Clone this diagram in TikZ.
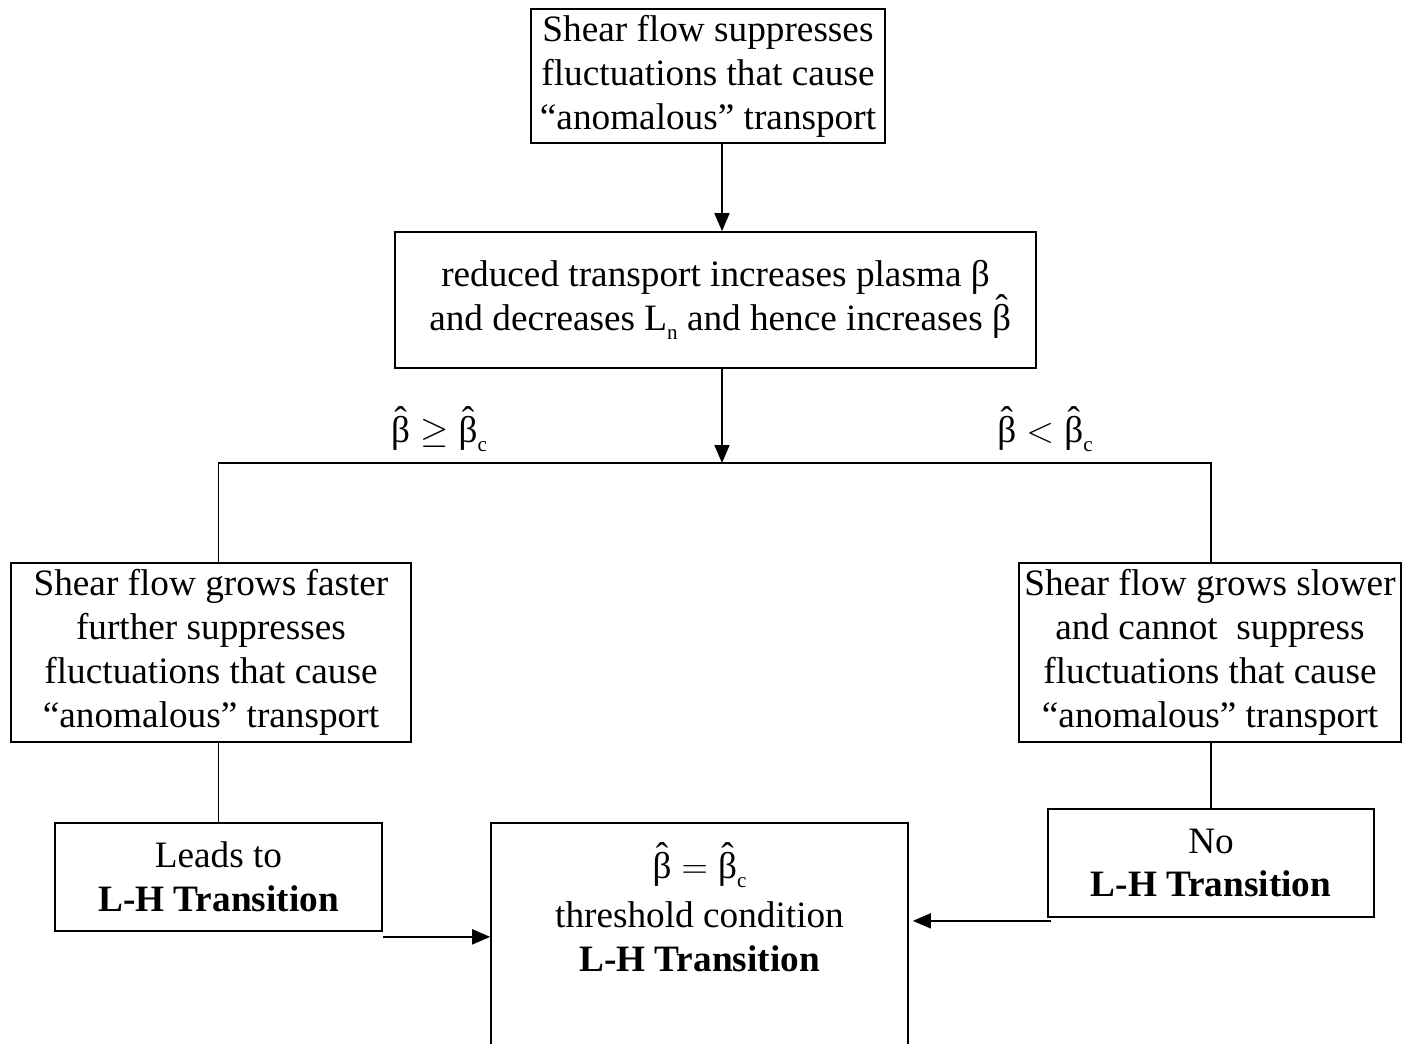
\documentclass[tikz,border=0pt]{standalone}
\usepackage{amsmath}
\usepackage{fontspec}
\setmainfont{Liberation Serif}
\usetikzlibrary{arrows.meta, positioning}
\newcommand{\sub}[1]{\raisebox{-0.24em}{\fontsize{12}{12}\selectfont #1}}
\newcommand{\bh}{\text{\ooalign{β\cr\hidewidth\raisebox{0.27em}{ˆ}\hidewidth\cr}}}
\newcommand{\bhc}{\bh\text{\sub{c}}}
\tikzset{
  box/.style  ={draw, rectangle, inner sep=0pt, align=center, line width=1pt},
  txt/.style  ={align=center, inner sep=0pt},
  flow/.style ={-{Triangle[length=3.6mm, width=3mm]}, line width=1pt},
  link/.style ={line width=1pt},
}

\begin{document}
\begin{tikzpicture}[x=0.02cm, y=-0.02cm, font=\fontsize{21.2}{25}\selectfont]
  \useasboundingbox (0,0) rectangle (1403,1044);
  % chain at the top
  \node[box, minimum width=7.08cm, minimum height=2.68cm] (shear) at (708,76)
    {Shear flow suppresses\\fluctuations that cause\\``anomalous'' transport};
  \node[box, minimum width=12.82cm, minimum height=2.72cm] (reduced) at (715.5,300)
    {reduced transport increases plasma β\\
     \ and decreases L\sub{n} and hence increases $\bh$};
  \coordinate (spine) at (722,0);
  \coordinate (fork) at (722,463);
  \draw[flow] (shear.south -| spine) -- (reduced.north -| spine);
  \draw[flow] (reduced.south -| spine) -- (fork);
  \node[txt] (ge) at (439,434) {$\bh\geq\bhc$};
  \node[txt] (lt) at (1045,434) {$\bh<\bhc$};
  % the two branches
  \node[box, minimum width=8cm, minimum height=3.58cm] (faster) at (211,652.5)
    {Shear flow grows faster\\further suppresses\\fluctuations that cause\\``anomalous'' transport};
  \node[box, minimum width=7.64cm, minimum height=3.58cm] (slower) at (1210,652.5)
    {Shear flow grows slower\\and cannot\ \ suppress\\fluctuations that cause\\``anomalous'' transport};
  \node[box, minimum width=6.54cm, minimum height=2.16cm] (leads) at (218.5,877)
    {Leads to\\\textbf{L-H Transition}};
  \node[box, minimum width=6.52cm, minimum height=2.16cm] (noLH) at (1211,863)
    {No\\\textbf{L-H Transition}};
  \node[box, minimum width=8.34cm, minimum height=4.54cm] (thresh) at (699.5,936.5) {};
  \node[txt] (threshtxt) at (699.5,912)
    {$\bh=\bhc$\\[3pt]threshold condition\\\textbf{L-H Transition}};
  \draw[link] (leads.north |- faster.north) |- (fork) -| (noLH.north |- slower.north);
  \draw[link] (leads.north |- faster.south) -- (leads.north);
  \draw[link] (noLH.north |- slower.south) -- (noLH.north);
  \draw[flow] ([yshift=-0.1cm]leads.south east) -- ([yshift=-0.1cm]leads.south east -| thresh.west);
  \draw[flow] ([xshift=0.08cm, yshift=-0.06cm]noLH.south west) -- ([xshift=0.08cm, yshift=-0.06cm]noLH.south west -| thresh.east);
\end{tikzpicture}
\end{document}
